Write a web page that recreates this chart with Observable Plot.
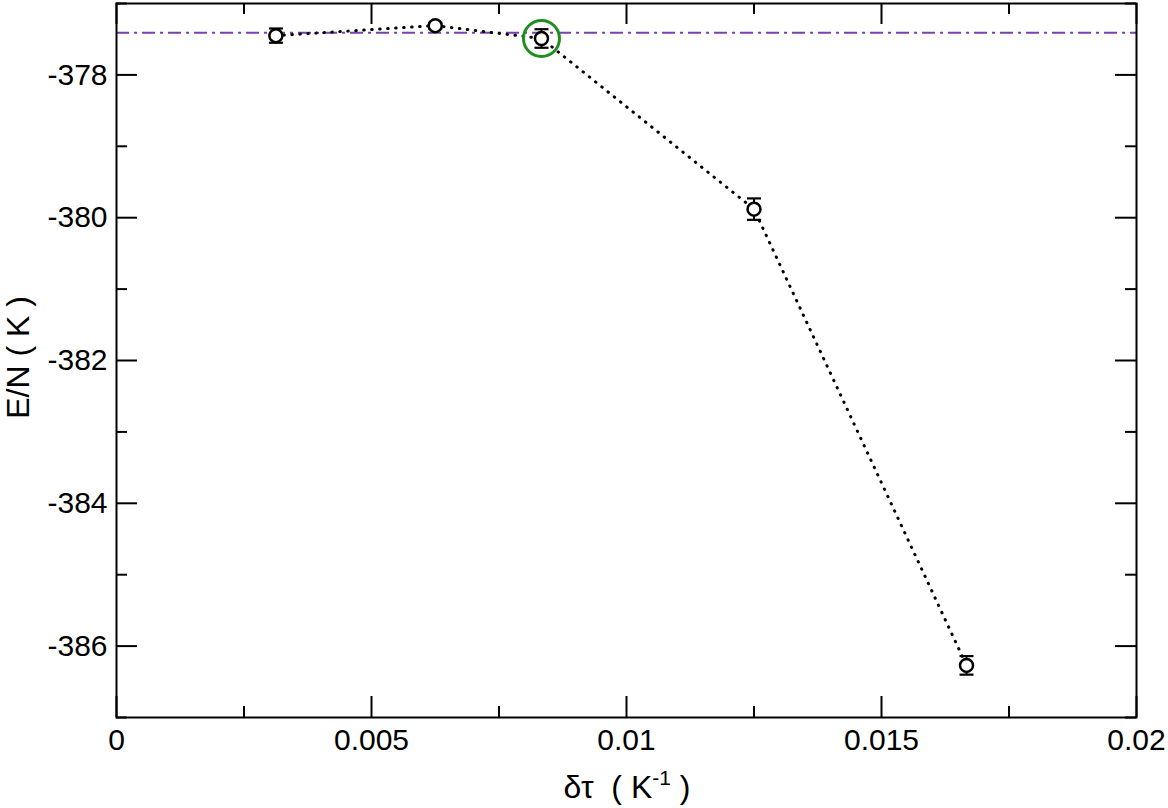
<!DOCTYPE html>
<html>
<head>
<meta charset="utf-8">
<script src="https://cdn.jsdelivr.net/npm/d3@7"></script>
<script src="https://cdn.jsdelivr.net/npm/@observablehq/plot@0.6"></script>
<style>
  html, body { margin: 0; padding: 0; background: #fff; }
  #chart svg { display: block; }
</style>
</head>
<body>
<div id="chart"></div>
<script>
// ---- data ----
const timeSteps = [0.003125, 0.00625, 0.008333, 0.0125, 0.016667];   // δτ (K^-1)
const energies  = [-377.45, -377.31, -377.49, -379.88, -386.27];    // E/N (K)
const errors    = [0.10, 0.04, 0.13, 0.15, 0.13];
const referenceEnergy = -377.41;
const highlightIndex = 2;
const xMajorTicks = [0, 0.005, 0.01, 0.015, 0.02];
const xMinorTicks = [0.0025, 0.0075, 0.0125, 0.0175];
const yMajorTicks = [-386, -384, -382, -380, -378];
const yMinorTicks = [-387, -385, -383, -381, -379, -377];
const xDomain = [0, 0.02];
const yDomain = [-387, -377];

const points = timeSteps.map((x, i) => ({x, y: energies[i], lo: energies[i] - errors[i], hi: energies[i] + errors[i]}));
const highlighted = [points[highlightIndex]];

const W = 1168, H = 808, mL = 116, mR = 32, mT = 3, mB = 91;
const frameH = H - mT - mB, frameW = W - mL - mR;
const major = 21, minor = 11;
const font = "Liberation Sans, Arial, Helvetica, sans-serif";

const capSymbol = {
  draw(ctx, size) {
    const r = Math.sqrt(size / Math.PI);
    ctx.moveTo(-r, 0);
    ctx.lineTo(r, 0);
  }
};

const plot = Plot.plot({
  width: W, height: H,
  marginLeft: mL, marginRight: mR, marginTop: mT, marginBottom: mB,
  style: {fontFamily: font, background: "#fff", color: "#000"},
  x: {domain: xDomain},
  y: {domain: yDomain},
  marks: [
    // reference line
    Plot.ruleY([referenceEnergy], {stroke: "#7b3fb5", strokeWidth: 2, strokeDasharray: "13 5 3 5"}),
    // connecting dotted line
    Plot.line(points, {x: "x", y: "y", stroke: "#000", strokeWidth: 3, strokeDasharray: "0.5 7.5", strokeLinecap: "round"}),
    // error bars
    Plot.ruleX(points, {x: "x", y1: "lo", y2: "hi", stroke: "#000", strokeWidth: 2}),
    Plot.dot(points, {x: "x", y: "hi", symbol: capSymbol, r: 7, stroke: "#000", strokeWidth: 2.2}),
    Plot.dot(points, {x: "x", y: "lo", symbol: capSymbol, r: 7, stroke: "#000", strokeWidth: 2.2}),
    // markers
    Plot.dot(points, {x: "x", y: "y", r: 6.5, stroke: "#000", fill: "#fff", strokeWidth: 2.5}),
    // highlight circle
    Plot.dot(highlighted, {x: "x", y: "y", r: 18, stroke: "#1f8f1f", fill: "none", strokeWidth: 3}),
    // inward ticks: bottom / top
    Plot.tickX(xMajorTicks, {x: d => d, insetTop: frameH - major, stroke: "#000", strokeWidth: 2}),
    Plot.tickX(xMinorTicks, {x: d => d, insetTop: frameH - minor, stroke: "#000", strokeWidth: 2}),
    Plot.tickX(xMajorTicks, {x: d => d, insetBottom: frameH - major, stroke: "#000", strokeWidth: 2}),
    Plot.tickX(xMinorTicks, {x: d => d, insetBottom: frameH - minor, stroke: "#000", strokeWidth: 2}),
    // inward ticks: left / right
    Plot.tickY(yMajorTicks, {y: d => d, insetRight: frameW - major, stroke: "#000", strokeWidth: 2}),
    Plot.tickY(yMinorTicks, {y: d => d, insetRight: frameW - minor, stroke: "#000", strokeWidth: 2}),
    Plot.tickY(yMajorTicks, {y: d => d, insetLeft: frameW - major, stroke: "#000", strokeWidth: 2}),
    Plot.tickY(yMinorTicks, {y: d => d, insetLeft: frameW - minor, stroke: "#000", strokeWidth: 2}),
    // axes labels
    Plot.axisX({ticks: xMajorTicks, tickSize: 0, tickPadding: 11, tickFormat: d => String(d), fontSize: 30, label: null}),
    Plot.axisY({ticks: yMajorTicks, tickSize: 0, tickPadding: 9, tickFormat: d => String(d), fontSize: 30, label: null}),
    Plot.text(["E/N ( K )"], {frameAnchor: "left", textAnchor: "middle", rotate: -90, dx: -98, dy: -3, fontSize: 32, text: d => d}),
    Plot.frame({stroke: "#000", strokeWidth: 2})
  ]
});

// x-axis title with superscript
const svg = d3.select(plot);
const t = svg.append("text")
  .attr("x", 627).attr("y", 798)
  .attr("text-anchor", "middle")
  .attr("font-size", 32)
  .attr("font-family", font)
  .attr("fill", "#000")
  .style("white-space", "pre");
t.append("tspan").text("δτ  ( K");
t.append("tspan").attr("dy", -13).attr("font-size", 21).text("-1");
t.append("tspan").attr("dy", 13).text(" )");

document.getElementById("chart").appendChild(plot);
</script>
</body>
</html>
